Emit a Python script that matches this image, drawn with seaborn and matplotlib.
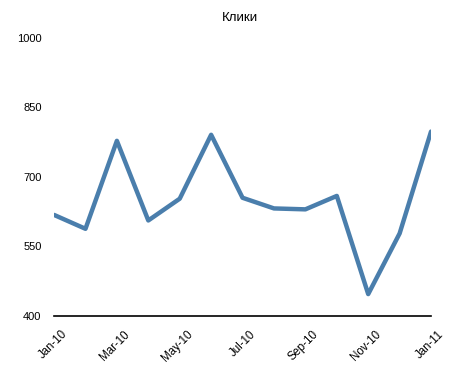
import pandas as pd
import matplotlib
matplotlib.use("Agg")
import matplotlib.pyplot as plt
import matplotlib.transforms as mtransforms
import seaborn as sns

# Data
months = ["Jan-10", "Feb-10", "Mar-10", "Apr-10", "May-10", "Jun-10", "Jul-10",
          "Aug-10", "Sep-10", "Oct-10", "Nov-10", "Dec-10", "Jan-11"]
clicks = [618, 588, 778, 606, 653, 791, 655, 632, 630, 659, 447, 578, 798]
tick_labels = months[::2]
y_ticks = [400, 550, 700, 850, 1000]

sns.set_style("white")
plt.rcParams['font.family'] = ['Liberation Sans', 'DejaVu Sans']
plt.rcParams['text.color'] = 'black'
plt.rcParams['xtick.color'] = 'black'
plt.rcParams['ytick.color'] = 'black'

df = pd.DataFrame({"idx": range(len(months)), "month": months, "clicks": clicks})

fig = plt.figure(figsize=(4.62, 3.69), dpi=100)
ax = fig.add_axes([0.117, 0.144, 0.816, 0.753])

sns.lineplot(data=df, x="idx", y="clicks", color="#4a7eac", linewidth=3.2, ax=ax)

ax.set_xlim(0, len(months) - 1)
ax.set_ylim(400, 1000)
ax.set_yticks(y_ticks)
ax.set_yticklabels([str(v) for v in y_ticks], fontsize=8)
ax.set_xticks(range(0, len(months), 2))
ax.set_xticklabels(tick_labels, rotation=45, ha="right", va="center",
                   rotation_mode="anchor", fontsize=8.3)
ax.tick_params(axis="x", length=0, pad=12)
ax.tick_params(axis="y", length=0, pad=9)

# shift the rotated month labels a little to the right, like the original
shift = mtransforms.ScaledTranslation(11 / 100, 0, fig.dpi_scale_trans)
for lbl in ax.get_xticklabels():
    lbl.set_transform(lbl.get_transform() + shift)

ax.set_xlabel("")
ax.set_ylabel("")

for side in ["top", "right", "left"]:
    ax.spines[side].set_visible(False)
ax.spines["bottom"].set_color("black")
ax.spines["bottom"].set_linewidth(1.2)

fig.text(0.52, 0.95, "Клики", ha="center", va="center", fontsize=9.5)

fig.savefig("out.png", dpi=100)
